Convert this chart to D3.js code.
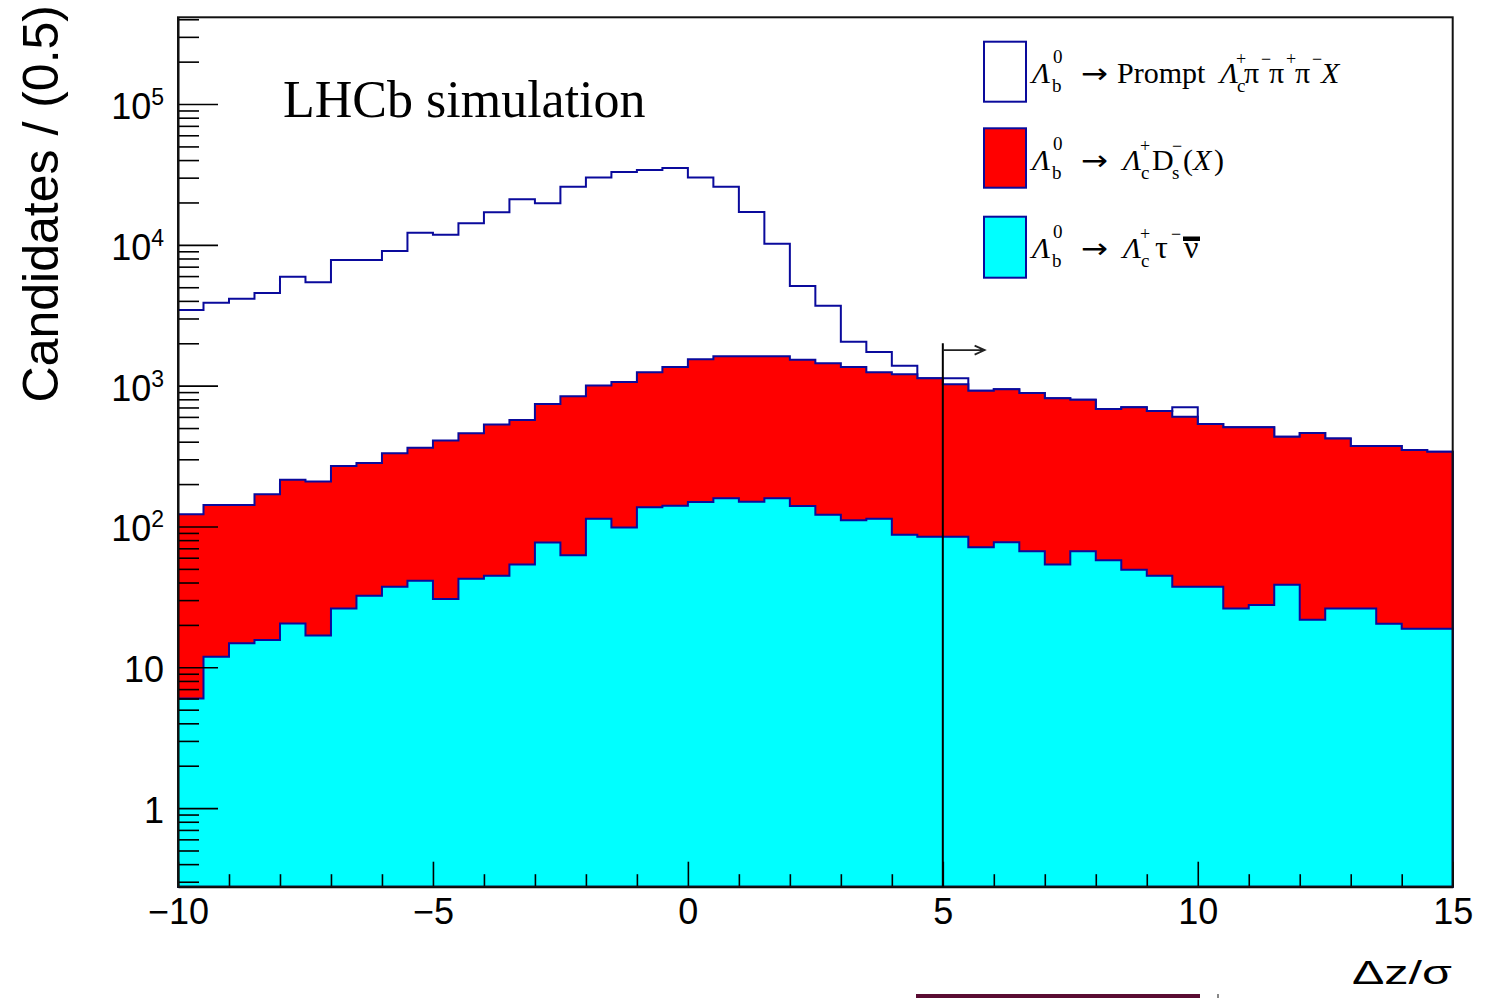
<!DOCTYPE html>
<html><head><meta charset="utf-8">
<script src="https://cdn.jsdelivr.net/npm/d3@7"></script>
<style>body{margin:0;background:#fff}svg{display:block}</style>
</head><body>
<svg id="c" width="1491" height="998"></svg>
<script>
// ---- data ----
const xMin = -10, xMax = 15, binWidth = 0.5;
// Lambda_b -> Lambda_c tau nu (cyan, bottom of stack)
const tauNu = [6.0, 11.9, 14.8, 15.6, 20.5, 16.8, 26.2, 32.2, 37.3, 41.2,
  30.5, 42.6, 44.7, 53.8, 77.1, 62.4, 113.5, 98.3, 136.8, 140.4,
  149.2, 158.5, 149.9, 158.5, 139.7, 121.2, 110.6, 113.5, 87.4, 84.6,
  84.6, 71.1, 77.3, 66.7, 53.8, 66.6, 57.5, 49.3, 44.7, 37.3,
  37.3, 26.2, 27.7, 38.6, 21.8, 26.1, 26.1, 20.4, 18.8, 18.8];
// Lambda_b -> Lambda_c Ds (X) (red, middle)
const dsX = [116, 130, 127, 154, 194, 192, 243, 250, 294, 321,
  378, 416, 486, 516, 663, 777, 889, 964, 1107, 1216,
  1389, 1457, 1465, 1457, 1388, 1319, 1245, 1131, 1116, 1042,
  937, 849, 867, 820, 759, 727, 625, 653, 615, 564,
  497, 480, 478, 395, 439, 396, 347, 353, 330, 321];
// Lambda_b -> Prompt Lambda_c 3pi X (white, top)
const promptX = [3321, 3738, 3999, 4375, 5720, 5208, 7529, 7516, 8704, 11828,
  11391, 13751, 16499, 20480, 18970, 25011, 29138, 31808, 32726, 33744,
  28602, 24235, 15485, 8565, 3568, 2252, 694, 489, 181, 0,
  105, 0, 0, 0, 0, 0, 0, 0, 0, 101,
  0, 0, 0, 0, 0, 0, 0, 0, 0, 0];
const xMajorTicks = [-10, -5, 0, 5, 10, 15];
const xMinorTicks = [-9, -8, -7, -6, -4, -3, -2, -1, 1, 2, 3, 4, 6, 7, 8, 9, 11, 12, 13, 14];
const yMajorTicks = [1, 10, 100, 1000, 10000, 100000];
const yMajorLabels = [["1", ""], ["10", ""], ["10", "2"], ["10", "3"], ["10", "4"], ["10", "5"]];
const yDomain = [0.2766, 4.13e5];
const cut = {x: 5, yTop: 2000, arrowEnd: 5.82, arrowY: 1790};

// ---- setup ----
const svg = d3.select("#c");
const L = 178, R = 1452.7, T = 17.3, B = 886.7;
const x = d3.scaleLinear([xMin, xMax], [L, R]);
const y = d3.scaleLog(yDomain, [B, T]);
const lineCol = "#0a0a9c";

const yMinorTicks = [];
for (let e = -1; e <= 5; e++) for (let m = 2; m <= 9; m++) {
  const v = m * Math.pow(10, e);
  if (v >= yDomain[0] && v <= yDomain[1]) yMinorTicks.push(v);
}

const rows = tauNu.map((v, i) => ({lo: xMin + i * binWidth, tau: v, ds: dsX[i], prompt: promptX[i]}));
rows.push(Object.assign({}, rows[rows.length - 1], {lo: xMax}));
const layers = d3.stack().keys(["tau", "ds", "prompt"])(rows);
const fills = {tau: "#00ffff", ds: "#ff0000", prompt: "#ffffff"};
const area = d3.area().curve(d3.curveStepAfter)
  .x(d => x(d.data.lo)).y0(B).y1(d => y(d[1]));

svg.append("g").selectAll("path").data(layers.slice().reverse()).join("path")
  .attr("d", area).attr("fill", d => fills[d.key])
  .attr("stroke", lineCol).attr("stroke-width", 2).attr("stroke-linejoin", "miter");

// ---- axes ----
const gx = svg.append("g").attr("transform", `translate(0,${B})`)
  .call(d3.axisBottom(x).tickValues(xMajorTicks).tickSizeInner(-25).tickSizeOuter(0).tickPadding(12)
    .tickFormat(d => d < 0 ? "\u2212" + Math.abs(d) : String(d)));
gx.selectAll("text").attr("font-family", "Liberation Sans, Arial, sans-serif").attr("font-size", 36).attr("fill", "#000");
const gxm = svg.append("g").attr("transform", `translate(0,${B})`)
  .call(d3.axisBottom(x).tickValues(xMinorTicks).tickSizeInner(-12.5).tickSizeOuter(0).tickFormat(""));
gxm.select(".domain").remove();

const gy = svg.append("g").attr("transform", `translate(${L},0)`)
  .call(d3.axisLeft(y).tickValues(yMajorTicks).tickSizeInner(-40).tickSizeOuter(0).tickFormat(""));
const gym = svg.append("g").attr("transform", `translate(${L},0)`)
  .call(d3.axisLeft(y).tickValues(yMinorTicks).tickSizeInner(-21).tickSizeOuter(0).tickFormat(""));
gym.select(".domain").remove();
svg.selectAll(".tick line").attr("stroke", "#000").attr("stroke-width", 1.6);
svg.selectAll(".domain").attr("stroke", "#000").attr("stroke-width", 2);

// y labels
const yl = svg.append("g").attr("font-family", "Liberation Sans, Arial, sans-serif").attr("fill", "#000");
yMajorTicks.forEach((v, i) => {
  const t = yl.append("text").attr("x", 164).attr("y", y(v) + 15).attr("text-anchor", "end").attr("font-size", 36);
  t.append("tspan").text(yMajorLabels[i][0]);
  if (yMajorLabels[i][1]) t.append("tspan").attr("dy", -14).attr("font-size", 23).text(yMajorLabels[i][1]);
});

// frame
svg.append("rect").attr("x", L).attr("y", T).attr("width", R - L).attr("height", B - T)
  .attr("fill", "none").attr("stroke", "#111").attr("stroke-width", 2);

// cut line + arrow
const cx = x(cut.x), ay = y(cut.arrowY), ax2 = x(cut.arrowEnd);
svg.append("line").attr("x1", cx).attr("x2", cx).attr("y1", y(cut.yTop)).attr("y2", B)
  .attr("stroke", "#000").attr("stroke-width", 2);
svg.append("path").attr("d", `M${cx},${ay}H${ax2}M${ax2 - 10},${ay - 4.5}L${ax2},${ay}L${ax2 - 10},${ay + 4.5}`)
  .attr("fill", "none").attr("stroke", "#222").attr("stroke-width", 1.8);

// titles
svg.append("text").attr("transform", "translate(58,5) rotate(-90)").attr("text-anchor", "end")
  .attr("font-family", "Liberation Sans, Arial, sans-serif").attr("font-size", 50).attr("fill", "#000")
  .text("Candidates / (0.5)");
svg.append("text").attr("x", 1452).attr("y", 984).attr("text-anchor", "end")
  .attr("font-family", "Liberation Sans, Arial, sans-serif").attr("font-size", 34).attr("fill", "#000")
  .attr("textLength", 100).attr("lengthAdjust", "spacingAndGlyphs").text("\u0394z/\u03c3");
svg.append("text").attr("x", 283).attr("y", 117).attr("font-family", "Liberation Serif, Times New Roman, serif")
  .attr("font-size", 52).attr("fill", "#000").text("LHCb simulation");

// ---- legend ----
const legendBoxes = [
  {key: "prompt", y0: 41.7, y1: 101.7},
  {key: "ds", y0: 128.3, y1: 187.7},
  {key: "tau", y0: 216.7, y1: 277.7}
];
const lg = svg.append("g");
lg.selectAll("rect").data(legendBoxes).join("rect")
  .attr("x", 984).attr("y", d => d.y0).attr("width", 42).attr("height", d => d.y1 - d.y0)
  .attr("fill", d => fills[d.key]).attr("stroke", lineCol).attr("stroke-width", 2);

const serif = "Liberation Serif, Times New Roman, serif";
function tok(base, items) {
  items.forEach(it => {
    let yy = base, sz = it.s || 30;
    if (it.p === "sup") { yy = base - 18; sz = it.s || 18; }
    if (it.p === "sup0") { yy = base - 20; sz = it.s || 19; }
    if (it.p === "sub") { yy = base + 9; sz = it.s || 19; }
    const t = lg.append("text").attr("x", it.x).attr("y", yy).attr("font-family", it.f || serif)
      .attr("font-size", sz).attr("fill", "#000").text(it.t);
    if (it.i) t.attr("font-style", "italic");
    if (it.w) t.attr("textLength", it.w).attr("lengthAdjust", "spacingAndGlyphs");
  });
}
const lamb = [
  {x: 1032, t: "\u039b", i: true},
  {x: 1053, t: "0", p: "sup0"},
  {x: 1052, t: "b", p: "sub"},
  {x: 1081, t: "\u2192", w: 27, f: "DejaVu Sans, sans-serif", s: 28}
];
tok(83, lamb.concat([
  {x: 1117, t: "Prompt"},
  {x: 1220, t: "\u039b", i: true},
  {x: 1236, t: "+", p: "sup"},
  {x: 1237, t: "c", p: "sub"},
  {x: 1244, t: "\u03c0"},
  {x: 1261, t: "\u2212", p: "sup", s: 18},
  {x: 1269, t: "\u03c0"},
  {x: 1286, t: "+", p: "sup"},
  {x: 1295, t: "\u03c0"},
  {x: 1312, t: "\u2212", p: "sup", s: 18},
  {x: 1321, t: "X", i: true}
]));
tok(170, lamb.concat([
  {x: 1123, t: "\u039b", i: true},
  {x: 1140, t: "+", p: "sup"},
  {x: 1141, t: "c", p: "sub"},
  {x: 1152, t: "D"},
  {x: 1172, t: "\u2212", p: "sup", s: 18},
  {x: 1172, t: "s", p: "sub"},
  {x: 1183, t: "("},
  {x: 1193, t: "X", i: true},
  {x: 1214, t: ")"}
]));
tok(258, lamb.concat([
  {x: 1123, t: "\u039b", i: true},
  {x: 1140, t: "+", p: "sup"},
  {x: 1141, t: "c", p: "sub"},
  {x: 1155, t: "\u03c4", s: 32},
  {x: 1171, t: "\u2212", p: "sup", s: 18},
  {x: 1184, t: "\u03bd", s: 32}
]));
lg.append("rect").attr("x", 1183).attr("y", 236.5).attr("width", 17).attr("height", 4.5).attr("fill", "#000");

// bottom crop artifact
svg.append("rect").attr("x", 916).attr("y", 994).attr("width", 284).attr("height", 4).attr("fill", "#5a0c32");
svg.append("rect").attr("x", 1217).attr("y", 994).attr("width", 2).attr("height", 4).attr("fill", "#888");
</script>
</body></html>
